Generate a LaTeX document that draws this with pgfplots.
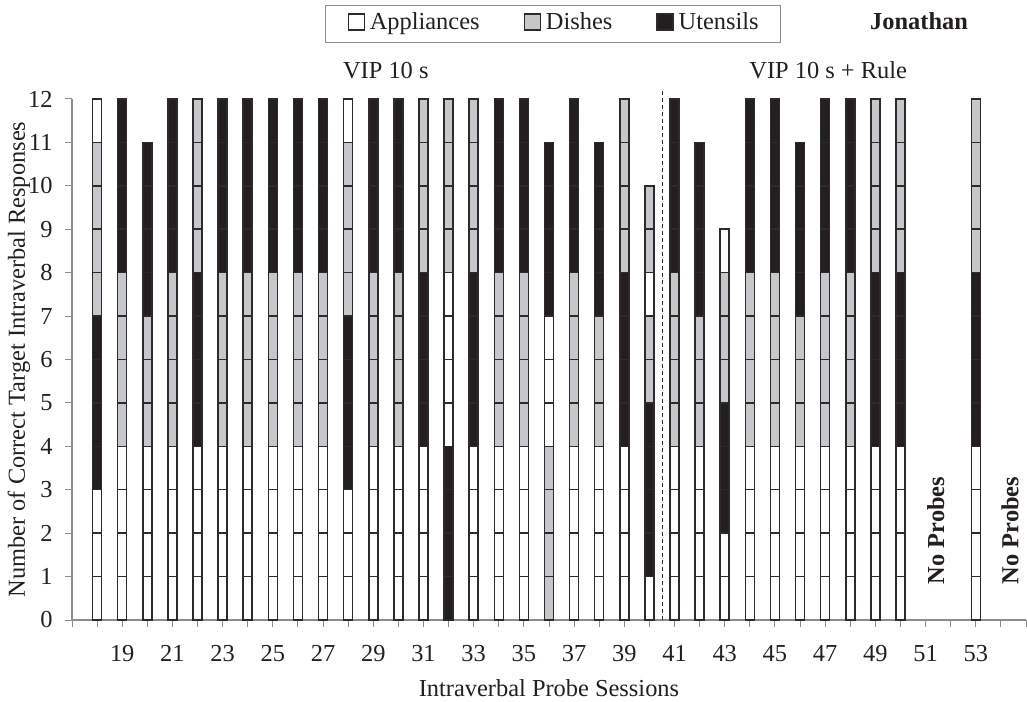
\documentclass[border=0pt]{standalone}
\usepackage{fontspec}
\setmainfont{Liberation Serif}
\usepackage{pgfplots}
\usepackage{pgfplotstable}
\pgfplotsset{compat=1.18}

\definecolor{dishgray}{RGB}{198,199,201}
\definecolor{utblack}{RGB}{35,31,32}
\definecolor{edge}{RGB}{45,42,43}
\definecolor{axisgray}{RGB}{140,140,140}
\definecolor{ink}{RGB}{35,31,32}

% One row per probe session; u1..u12 give the category of each correct
% response from the bottom of the bar up: 1 = Appliances, 2 = Dishes,
% 3 = Utensils, 0 = none.
\pgfplotstableread{
s  u1 u2 u3 u4 u5 u6 u7 u8 u9 u10 u11 u12
18 1 1 1 3 3 3 3 2 2 2 2 1
19 1 1 1 1 2 2 2 2 3 3 3 3
20 1 1 1 1 2 2 2 3 3 3 3 0
21 1 1 1 1 2 2 2 2 3 3 3 3
22 1 1 1 1 3 3 3 3 2 2 2 2
23 1 1 1 1 2 2 2 2 3 3 3 3
24 1 1 1 1 2 2 2 2 3 3 3 3
25 1 1 1 1 2 2 2 2 3 3 3 3
26 1 1 1 1 2 2 2 2 3 3 3 3
27 1 1 1 1 2 2 2 2 3 3 3 3
28 1 1 1 3 3 3 3 2 2 2 2 1
29 1 1 1 1 2 2 2 2 3 3 3 3
30 1 1 1 1 2 2 2 2 3 3 3 3
31 1 1 1 1 3 3 3 3 2 2 2 2
32 3 3 3 3 1 1 1 1 2 2 2 2
33 1 1 1 1 3 3 3 3 2 2 2 2
34 1 1 1 1 2 2 2 2 3 3 3 3
35 1 1 1 1 2 2 2 2 3 3 3 3
36 2 2 2 2 1 1 1 3 3 3 3 0
37 1 1 1 1 2 2 2 2 3 3 3 3
38 1 1 1 1 2 2 2 3 3 3 3 0
39 1 1 1 1 3 3 3 3 2 2 2 2
40 1 3 3 3 3 2 2 1 2 2 0 0
41 1 1 1 1 2 2 2 2 3 3 3 3
42 1 1 1 1 2 2 2 3 3 3 3 0
43 1 1 3 3 3 2 2 2 1 0 0 0
44 1 1 1 1 2 2 2 2 3 3 3 3
45 1 1 1 1 2 2 2 2 3 3 3 3
46 1 1 1 1 2 2 2 3 3 3 3 0
47 1 1 1 1 2 2 2 2 3 3 3 3
48 1 1 1 1 2 2 2 2 3 3 3 3
49 1 1 1 1 3 3 3 3 2 2 2 2
50 1 1 1 1 3 3 3 3 2 2 2 2
53 1 1 1 1 3 3 3 3 2 2 2 2
}\units

% One unit-high layer of every bar: a white, a grey and a black block,
% of which only the one matching the session's code has height 1.
\newcommand{\unitlayer}[1]{%
  \addplot[fill=white]    table[x=s, y expr={\thisrow{u#1}==1}] {\units};
  \addplot[fill=dishgray] table[x=s, y expr={\thisrow{u#1}==2}] {\units};
  \addplot[fill=utblack]  table[x=s, y expr={\thisrow{u#1}==3}] {\units};
}

\newcommand{\swatch}[1]{\tikz[baseline=0pt]\draw[fill=#1, draw=edge, line width=1.3bp] (0,0) rectangle (16bp,16bp);}

\begin{document}
\begin{tikzpicture}
\path[use as bounding box] (0,0) rectangle (1027bp,702bp);
\begin{axis}[
  at={(72bp,82bp)}, anchor=south west,
  scale only axis, width=954bp, height=521bp,
  xmin=17, xmax=55, ymin=0, ymax=12,
  clip=false,
  font=\fontsize{24.5}{29}\selectfont,
  every non boxed x axis/.append style={x axis line style={-}},
  every non boxed y axis/.append style={y axis line style={-}},
  axis x line*=bottom, axis y line*=left,
  axis line style={draw=axisgray, line width=1.1bp},
  xtick align=outside, ytick align=outside,
  major tick length=7bp,
  tick style={draw=axisgray, line width=1bp},
  xtick={17,...,55},
  xticklabels={,,19,,21,,23,,25,,27,,29,,31,,33,,35,,37,,39,,41,,43,,45,,47,,49,,51,,53,,},
  ytick={0,...,12},
  /pgf/number format/assume math mode=true,
  ticklabel style={text=ink},
  xticklabel style={yshift=-15bp},
  yticklabel style={xshift=-9bp},
  xlabel={Intraverbal Probe Sessions},
  ylabel={Number of Correct Target Intraverbal Responses},
  xlabel style={at={(axis description cs:0.5,-0.146)}, anchor=base, text=ink},
  ylabel style={at={(axis description cs:-0.0556,0.5)}, anchor=center, text=ink},
  ybar stacked, bar width=9bp,
  every axis plot/.append style={draw=edge, line width=1.5bp},
]
\unitlayer{1}\unitlayer{2}\unitlayer{3}\unitlayer{4}
\unitlayer{5}\unitlayer{6}\unitlayer{7}\unitlayer{8}
\unitlayer{9}\unitlayer{10}\unitlayer{11}\unitlayer{12}

% phase change line
\draw[edge, line width=1.2bp, dash pattern=on 4bp off 3bp]
  (axis cs:40.53,0) -- (axis cs:40.53,12.25);

\node[anchor=base, text=ink] at (axis cs:29.5,12.48) {VIP 10 s};
\node[anchor=base, text=ink] at (axis cs:47.12,12.48) {VIP 10 s + Rule};
\node[anchor=base, text=ink, font=\fontsize{24.5}{29}\selectfont\bfseries]
  at (axis cs:50.74,13.61) {Jonathan};
\node[rotate=90, text=ink, font=\fontsize{24.5}{29}\selectfont\bfseries]
  at (axis cs:51.41,2.06) {No Probes};
\node[rotate=90, text=ink, font=\fontsize{24.5}{29}\selectfont\bfseries]
  at (axis cs:54.36,2.06) {No Probes};
\end{axis}

% legend
\node[draw=axisgray, line width=1bp, anchor=north west, inner xsep=22bp,
      inner ysep=0pt, minimum height=37bp, text=ink,
      font=\fontsize{24.5}{29}\selectfont]
  at (325bp,697bp)
  {\swatch{white}\hspace{5bp}Appliances\hspace{44bp}\swatch{dishgray}\hspace{5bp}Dishes\hspace{44bp}\swatch{utblack}\hspace{5bp}Utensils};
\end{tikzpicture}
\end{document}
